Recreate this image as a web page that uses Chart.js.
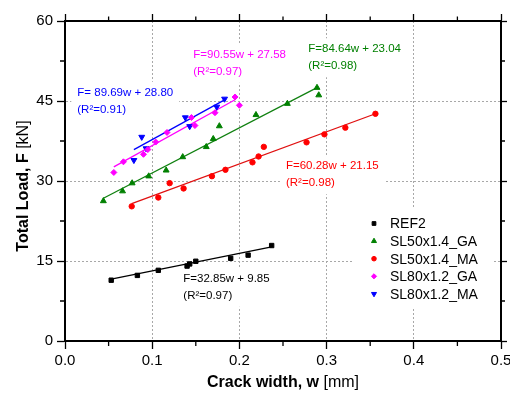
<!DOCTYPE html>
<html>
<head>
<meta charset="utf-8">
<script src="https://cdn.jsdelivr.net/npm/chart.js@4.4.0/dist/chart.umd.min.js"></script>
<style>
  html, body { margin: 0; padding: 0; background: #fff; }
</style>
</head>
<body>
<canvas id="myChart" width="510" height="393"></canvas>
<script>
// datos (w en mm, F en kN)
const ref2W = [0.053, 0.083, 0.107, 0.140, 0.143, 0.150, 0.190, 0.210, 0.237];
const ref2F = [11.4, 12.3, 13.25, 14.05, 14.45, 14.95, 15.5, 16.1, 17.9];

const ga50W = [0.044, 0.066, 0.077, 0.096, 0.116, 0.135, 0.162, 0.170, 0.177, 0.219, 0.255, 0.289, 0.291];
const ga50F = [26.25, 28.1, 29.6, 30.9, 32.0, 34.5, 36.4, 37.9, 40.3, 42.4, 44.5, 47.5, 46.1];

const ma50W = [0.0765, 0.107, 0.120, 0.136, 0.1685, 0.184, 0.215, 0.222, 0.228, 0.277, 0.2975, 0.3215, 0.356];
const ma50F = [25.25, 26.9, 29.6, 28.6, 30.9, 32.1, 33.5, 34.6, 36.4, 37.25, 38.75, 40.0, 42.6];

const ga80W = [0.056, 0.067, 0.090, 0.095, 0.104, 0.117, 0.145, 0.149, 0.172, 0.195, 0.200];
const ga80F = [31.6, 33.6, 35.0, 35.9, 37.3, 39.1, 41.9, 40.4, 42.8, 45.75, 44.2];

const ma80W = [0.079, 0.088, 0.093, 0.138, 0.143, 0.174, 0.183];
const ma80F = [33.9, 38.25, 36.1, 41.9, 40.25, 43.9, 45.4];

const series = ['REF2', 'SL50x1.4_GA', 'SL50x1.4_MA', 'SL80x1.2_GA', 'SL80x1.2_MA'];

// rectas de ajuste (las ecuaciones de la grafica)
const fitSlope = [32.85, 84.64, 60.28, 90.55, 89.69];
const fitIntercept = [9.85, 23.04, 21.15, 27.58, 28.80];
const fitFrom = [0.053, 0.044, 0.0765, 0.056, 0.079];
const fitTo = [0.237, 0.289, 0.356, 0.195, 0.183];
const fitLabels = ['F=32.85w + 9.85', 'F=84.64w + 23.04', 'F=60.28w + 21.15', 'F=90.55w + 27.58', 'F= 89.69w + 28.80'];
const r2Labels = ['(R\u00B2=0.97)', '(R\u00B2=0.98)', '(R\u00B2=0.98)', '(R\u00B2=0.97)', '(R\u00B2=0.91)'];

const xTicks = [0, 0.1, 0.2, 0.3, 0.4, 0.5];
const yTicks = [0, 15, 30, 45, 60];

// estilos
const colores = ['#000000', '#008000', '#ff0000', '#ff00ff', '#0000ff'];
const lineColores = ['#000000', '#108010', '#e01010', '#ff00ff', '#0000ff'];
const simbolos = ['rect', 'triangle', 'circle', 'rectRot', 'triangle'];
const giros = [0, 0, 0, 0, 180];
const radios = [3.1, 3.4, 2.7, 3.0, 3.4];
// donde va cada ecuacion (en unidades de la grafica)
const labelW = [0.1357, 0.279, 0.2534, 0.1471, 0.0141];
const labelF = [11.66, 54.7, 32.76, 53.66, 46.54];

const fuente = '"Liberation Sans", Arial, Helvetica, sans-serif';

const puntosW = [ref2W, ga50W, ma50W, ga80W, ma80W];
const puntosF = [ref2F, ga50F, ma50F, ga80F, ma80F];

const datasets = [];
for (let i = 0; i < series.length; i++) {
  datasets.push({
    label: 'fit ' + series[i],
    data: [
      { x: fitFrom[i], y: fitSlope[i] * fitFrom[i] + fitIntercept[i] },
      { x: fitTo[i], y: fitSlope[i] * fitTo[i] + fitIntercept[i] }
    ],
    showLine: true,
    borderColor: lineColores[i],
    borderWidth: 1.3,
    pointRadius: 0,
    order: 10
  });
}
for (let i = 0; i < series.length; i++) {
  datasets.push({
    label: series[i],
    data: puntosW[i].map((w, k) => ({ x: w, y: puntosF[i][k] })),
    showLine: false,
    pointStyle: simbolos[i],
    rotation: giros[i],
    pointRadius: radios[i],
    pointBackgroundColor: colores[i],
    pointBorderColor: colores[i],
    pointBorderWidth: 1,
    order: 1
  });
}

function gridColor(ctx) {
  const v = ctx.tick ? ctx.tick.value : 0;
  const s = ctx.scale;
  if (Math.abs(v - s.min) < 1e-9 || Math.abs(v - s.max) < 1e-9) return 'rgba(0,0,0,0)';
  return '#a8a8a8';
}

const dibujos = {
  id: 'dibujos',
  beforeDatasetsDraw(chart) {
    const ctx = chart.ctx;
    const xs = chart.scales.x, ys = chart.scales.y;
    ctx.save();
    // ecuaciones con fondo blanco
    ctx.font = '11.5px ' + fuente;
    ctx.textBaseline = 'middle';
    ctx.textAlign = 'left';
    for (let i = 0; i < fitLabels.length; i++) {
      const x = xs.getPixelForValue(labelW[i]);
      const y = ys.getPixelForValue(labelF[i]);
      const w = Math.max(ctx.measureText(fitLabels[i]).width, ctx.measureText(r2Labels[i]).width);
      ctx.fillStyle = '#fff';
      ctx.fillRect(x - 6, y - 11, w + 12, 17 + 22);
      ctx.fillStyle = colores[i];
      ctx.fillText(fitLabels[i], x, y);
      ctx.fillText(r2Labels[i], x, y + 17);
    }
    // leyenda
    ctx.fillStyle = '#fff';
    ctx.fillRect(353, 209, 140, 98);
    ctx.font = '14px ' + fuente;
    for (let i = 0; i < series.length; i++) {
      const y = 223.5 + i * 17.6;
      ctx.fillStyle = colores[i];
      ctx.strokeStyle = colores[i];
      ctx.lineWidth = 1;
      Chart.helpers.drawPoint(ctx, {
        pointStyle: simbolos[i], rotation: giros[i], radius: radios[i] * 0.85, borderWidth: 1
      }, 374, y);
      ctx.fillStyle = '#000';
      ctx.fillText(series[i], 390, y + 1);
    }
    ctx.restore();
  },
  afterDraw(chart) {
    const ctx = chart.ctx;
    const a = chart.chartArea;
    const xs = chart.scales.x, ys = chart.scales.y;
    ctx.save();
    // ticks menores
    ctx.strokeStyle = '#000';
    ctx.lineWidth = 1.3;
    ctx.beginPath();
    for (let k = 0; k < xTicks.length - 1; k++) {
      const px = xs.getPixelForValue((xTicks[k] + xTicks[k + 1]) / 2);
      ctx.moveTo(px, a.bottom); ctx.lineTo(px, a.bottom + 5);
      ctx.moveTo(px, a.top); ctx.lineTo(px, a.top - 4.5);
    }
    for (let k = 0; k < yTicks.length - 1; k++) {
      const py = ys.getPixelForValue((yTicks[k] + yTicks[k + 1]) / 2);
      ctx.moveTo(a.left, py); ctx.lineTo(a.left - 5, py);
      ctx.moveTo(a.right, py); ctx.lineTo(a.right + 4, py);
    }
    ctx.stroke();

    // titulos de ejes: parte en negrita y parte normal
    ctx.fillStyle = '#000';
    ctx.textBaseline = 'alphabetic';
    ctx.textAlign = 'left';
    const negX = 'bold 16px ' + fuente, norX = '16px ' + fuente;
    ctx.font = negX;
    const w1 = ctx.measureText('Crack width, w ').width;
    ctx.font = norX;
    const w2 = ctx.measureText('[mm]').width;
    let x0 = (a.left + a.right) / 2 - (w1 + w2) / 2;
    ctx.font = negX;
    ctx.fillText('Crack width, w ', x0, 387);
    ctx.font = norX;
    ctx.fillText('[mm]', x0 + w1, 387);

    ctx.translate(28, 186);
    ctx.rotate(-Math.PI / 2);
    ctx.font = negX;
    const h1 = ctx.measureText('Total Load, F ').width;
    ctx.font = norX;
    const h2 = ctx.measureText('[kN]').width;
    x0 = -(h1 + h2) / 2;
    ctx.font = negX;
    ctx.fillText('Total Load, F ', x0, 0);
    ctx.font = norX;
    ctx.fillText('[kN]', x0 + h1, 0);
    ctx.restore();
  }
};

const ctx = document.getElementById('myChart').getContext('2d');
const myChart = new Chart(ctx, {
  type: 'scatter',
  data: { datasets: datasets },
  options: {
    responsive: false,
    animation: false,
    devicePixelRatio: 1,
    layout: { padding: 0 },
    plugins: {
      legend: { display: false },
      tooltip: { enabled: false }
    },
    scales: {
      x: {
        type: 'linear', position: 'bottom',
        min: xTicks[0], max: xTicks[xTicks.length - 1],
        afterBuildTicks: s => { s.ticks = xTicks.map(v => ({ value: v })); },
        ticks: {
          callback: v => Number(v).toFixed(1),
          font: { size: 15, family: fuente }, color: '#000',
          padding: 3, maxRotation: 0, autoSkip: false
        },
        grid: { color: gridColor, lineWidth: 1, tickLength: 8, tickColor: '#000', tickWidth: 1.3 },
        border: { color: '#000', width: 2, dash: [2, 2] },
        afterFit: s => { s.height = 52; s.paddingLeft = 0; s.paddingRight = 0; }
      },
      y: {
        type: 'linear', position: 'left',
        min: yTicks[0], max: yTicks[yTicks.length - 1],
        afterBuildTicks: s => { s.ticks = yTicks.map(v => ({ value: v })); },
        ticks: {
          font: { size: 15, family: fuente }, color: '#000',
          padding: 4, autoSkip: false
        },
        grid: { color: gridColor, lineWidth: 1, tickLength: 8, tickColor: '#000', tickWidth: 1.3 },
        border: { color: '#000', width: 2, dash: [2, 2] },
        afterFit: s => { s.width = 65; s.paddingTop = 0; s.paddingBottom = 0; }
      },
      x2: {
        type: 'linear', position: 'top',
        min: xTicks[0], max: xTicks[xTicks.length - 1],
        afterBuildTicks: s => { s.ticks = xTicks.map(v => ({ value: v })); },
        ticks: { display: false },
        grid: { drawOnChartArea: false, tickLength: 7, tickColor: '#000', tickWidth: 1.3 },
        border: { color: '#000', width: 2 },
        afterFit: s => { s.height = 21; s.paddingLeft = 0; s.paddingRight = 0; }
      },
      y2: {
        type: 'linear', position: 'right',
        min: yTicks[0], max: yTicks[yTicks.length - 1],
        afterBuildTicks: s => { s.ticks = yTicks.map(v => ({ value: v })); },
        ticks: { display: false },
        grid: { drawOnChartArea: false, tickLength: 6, tickColor: '#000', tickWidth: 1.3 },
        border: { color: '#000', width: 2 },
        afterFit: s => { s.width = 9; s.paddingTop = 0; s.paddingBottom = 0; }
      }
    }
  },
  plugins: [dibujos]
});
</script>
</body>
</html>
